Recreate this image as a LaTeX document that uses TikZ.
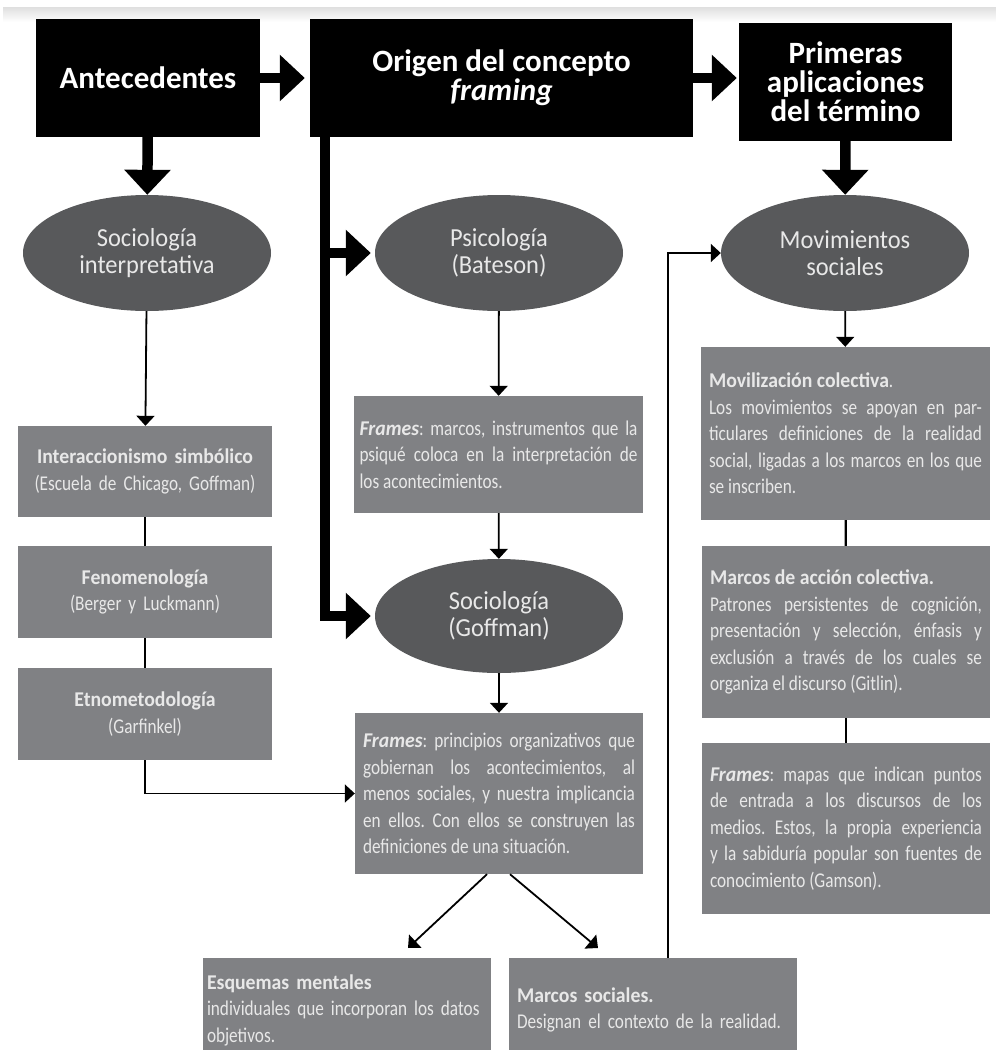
\documentclass[tikz,border=0pt]{standalone}
\usepackage{fontspec}
\setmainfont{Carlito}
\newfontfamily\condfont[UprightFeatures={FakeStretch=0.82},ItalicFeatures={FakeStretch=0.82},
  BoldFeatures={FakeStretch=0.94},BoldItalicFeatures={FakeStretch=0.94}]{Carlito}
\newfontfamily\ovalfont[FakeStretch=0.94]{Carlito}
\usepackage{xcolor}
\usepackage{tikz}
\usetikzlibrary{shapes.geometric}
\usetikzlibrary{arrows.meta}
\usetikzlibrary{positioning}
\definecolor{ovalgray}{HTML}{58595B}
\definecolor{boxgray}{HTML}{808184}
\definecolor{lighttext}{HTML}{E8E8E8}
\tolerance=9999
\frenchspacing

\begin{document}
\begin{tikzpicture}[x=1pt,y=-1pt,
  hdr/.style={rectangle,fill=black,text=white,inner sep=0pt,align=center,
    font=\bfseries\fontsize{31}{29}\selectfont},
  oval/.style={ellipse,fill=ovalgray,text=lighttext,inner sep=0pt,align=center,
    minimum width=248pt,minimum height=116pt,font=\ovalfont\fontsize{26}{27}\selectfont},
  gbox/.style={rectangle,fill=boxgray,text=lighttext,inner sep=0pt,
    font=\condfont\fontsize{21}{26.5}\selectfont},
  leftbox/.style={gbox,align=center,text width=254pt,minimum height=92pt},
  rightbox/.style={gbox,align=justify,text width=272pt,inner xsep=8pt},
  bigarrow/.style={line width=10.5pt,-{Triangle[length=25pt,width=45pt]}},
  thinarrow/.style={line width=1.8pt,-{Triangle[length=10pt,width=18pt]}},
  link/.style={line width=2.4pt}]

\useasboundingbox (0,0) rectangle (996,1050);
\shade[top color=gray!25,bottom color=white] (3,7) rectangle (996,22);

\node[hdr,minimum width=224pt,minimum height=118pt] (ante) at (148,78) {Antecedentes};
\node[hdr,minimum width=383pt,minimum height=118pt] (orig) at (501.5,78)
  {Origen del concepto\\\textit{framing}};
\node[hdr,minimum width=213pt,minimum height=118pt] (prim) at (845.5,82)
  {Primeras\\aplicaciones\\del término};

\node[oval] (socint) at (147,253) {Sociología\\interpretativa};
\node[oval] (psi) at (499,253) {Psicología\\(Bateson)};
\node[oval] (mov) at (845,253) {Movimientos\\sociales};
\node[oval,minimum height=114pt] (socg) at (499,616) {Sociología\\(Goffman)};

\node[leftbox,minimum height=91pt] (interac) at (145,471.5)
  {\textbf{Interaccionismo simbólico}\\(Escuela de Chicago, Goffman)};
\node[leftbox] (fenom) at (145,592) {\textbf{Fenomenología}\\(Berger y Luckmann)};
\node[leftbox] (etno) at (145,714) {\textbf{Etnometodología}\\(Garfinkel)};

\node[rightbox,text width=278pt,inner xsep=5.5pt,minimum height=117pt] (bates) at (498.5,454.5)
  {\textbf{\textit{Frames}}: marcos, instrumentos que la\linebreak
   psiqué coloca en la interpretación de\linebreak los acontecimientos.};
\node[rightbox,minimum height=161pt] (goffr) at (499,793.5)
  {\textbf{\textit{Frames}}: principios organizativos que\linebreak
   gobiernan los acontecimientos, al\linebreak
   menos sociales, y nuestra implicancia\linebreak
   en ellos. Con ellos se construyen las\linebreak
   definiciones de una situación.};

\node[rightbox,text width=273pt,inner xsep=8pt,minimum height=173pt] (moviliz) at (845.5,433.5)
  {\textbf{Movilización colectiva}.\\
   Los movimientos se apoyan en par-\linebreak
   ticulares definiciones de la realidad\linebreak
   social, ligadas a los marcos en los que\linebreak
   se inscriben.};
\node[rightbox,minimum height=172pt] (accion) at (846,632)
  {\textbf{Marcos de acción colectiva.}\\
   Patrones persistentes de cognición,\linebreak
   presentación y selección, énfasis y\linebreak
   exclusión a través de los cuales se\linebreak
   organiza el discurso (Gitlin).};
\node[rightbox,minimum height=171pt] (gamson) at (846,828.5)
  {\textbf{\textit{Frames}}: mapas que indican puntos\linebreak
   de entrada a los discursos de los\linebreak
   medios. Estos, la propia experiencia\linebreak
   y la sabiduría popular son fuentes de\linebreak
   conocimiento (Gamson).};

\node[rightbox,align=left,text width=280pt,inner xsep=4pt,minimum height=104pt] (esq) at (347,1010)
  {\textbf{Esquemas mentales}\\
   individuales que incorporan los datos\\
   objetivos.};
\node[rightbox,align=left,minimum height=104pt] (msoc) at (653,1010)
  {\textbf{Marcos sociales.}\\
   Designan el contexto de la realidad.};

\draw[bigarrow,shorten >=5pt] (ante) -- (orig);
\draw[bigarrow,shorten >=2pt] (orig.east) -- (prim.west |- orig.east);
\draw[bigarrow] (ante) -- (socint);
\draw[bigarrow] (prim) -- (mov);
\coordinate (trunk) at ([xshift=15pt]orig.south west);
\draw[bigarrow,shorten >=4pt] (trunk |- psi.west) -- (psi.west);
\draw[bigarrow,shorten >=4pt] (trunk) |- (socg.west);

\draw[thinarrow] (socint) -- (interac);
\draw[link] (interac) -- (fenom);
\draw[link] (fenom) -- (etno);
\draw[thinarrow] (etno.south) |- (goffr.west);

\draw[thinarrow] (psi) -- (bates);
\draw[thinarrow] (bates) -- (socg);
\draw[thinarrow] (socg) -- (goffr);
\coordinate (lefttip) at (408,948);
\coordinate (righttip) at (598,948);
\draw[thinarrow] ([xshift=-12pt]goffr.south) -- (lefttip);
\draw[thinarrow] ([xshift=11pt]goffr.south) -- (righttip);

\draw[thinarrow] (mov) -- (moviliz);
\draw[link] (moviliz) -- (accion);
\draw[link] (accion) -- (gamson);
\coordinate (msocup) at ([xshift=15pt]msoc.north);
\draw[thinarrow] (msocup) |- (mov.west);
\end{tikzpicture}
\end{document}
